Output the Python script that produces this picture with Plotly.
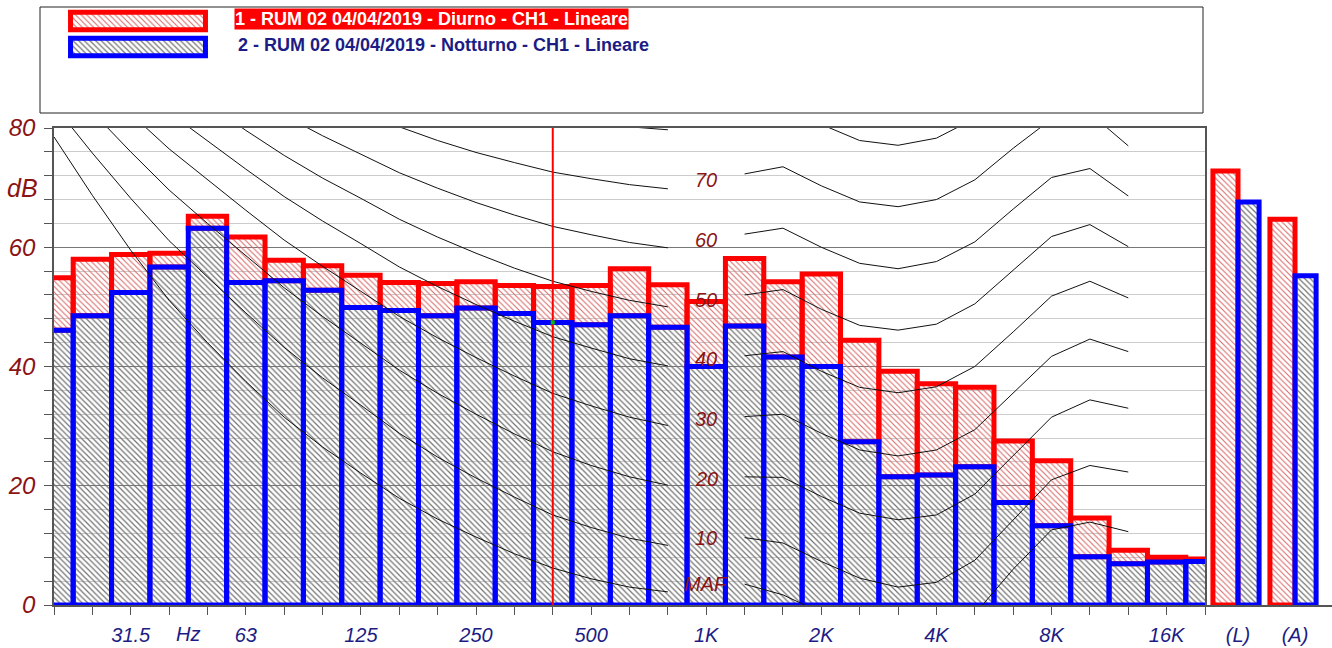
import plotly.graph_objects as go

# ---------------- data ----------------
bands = ["20", "25", "31.5", "40", "50", "63", "80", "100", "125", "160", "200", "250", "315", "400",
         "500", "630", "800", "1000", "1250", "1600", "2000", "2500", "3150", "4000", "5000", "6300",
         "8000", "10000", "12500", "16000", "20000"]
band_labels = {"31.5": "31.5", "63": "63", "125": "125", "250": "250", "500": "500", "1000": "1K",
               "2000": "2K", "4000": "4K", "8000": "8K", "16000": "16K"}

diurno = [54.9, 58.0, 58.8, 59.0, 65.2, 61.7, 57.8, 56.9, 55.3, 54.1, 53.9, 54.2, 53.6, 53.4,
          53.6, 56.4, 53.7, 50.9, 58.1, 54.2, 55.5, 44.4, 39.2, 37.1, 36.5, 27.5, 24.2, 14.6,
          9.2, 8.0, 7.7]
notturno = [46.1, 48.5, 52.4, 56.7, 63.2, 54.1, 54.4, 52.8, 49.9, 49.4, 48.5, 49.8, 48.9, 47.4,
            47.0, 48.5, 46.6, 40.0, 46.8, 41.6, 40.0, 27.4, 21.5, 21.8, 23.2, 17.2, 13.3, 8.1,
            6.9, 7.2, 7.3]

totals = ["(L)", "(A)"]
diurno_tot = [72.8, 64.7]
notturno_tot = [67.6, 55.2]

series_names = ["1 - RUM 02 04/04/2019 - Diurno - CH1 - Lineare",
                "2 - RUM 02 04/04/2019 - Notturno - CH1 - Lineare"]

cursor_band = "400"

# equal-loudness contours (dB at band centres 20 Hz .. 12.5 kHz)
iso_bands = bands[:29]
iso_curves = {
    "MAF": [78.5, 68.7, 59.5, 51.1, 44.0, 37.5, 31.5, 26.5, 22.1, 17.9, 14.4, 11.4, 8.6, 6.2, 4.4, 3.0,
            2.2, 2.4, 3.5, 1.7, -1.3, -4.2, -6.0, -5.4, -1.5, 6.0, 12.6, 13.9, 12.3],
    "10": [83.8, 75.8, 68.2, 61.1, 55.0, 49.0, 43.2, 38.1, 33.5, 28.8, 24.8, 21.3, 18.1, 15.1, 13.0, 11.2,
           10.0, 10.0, 11.3, 10.4, 7.3, 4.5, 3.0, 3.8, 7.5, 14.3, 21.0, 23.4, 22.3],
    "20": [89.6, 82.7, 76.0, 69.6, 64.0, 58.6, 53.2, 48.4, 43.9, 39.4, 35.5, 32.0, 28.7, 25.7, 23.4, 21.5,
           20.1, 20.0, 21.5, 21.4, 18.2, 15.4, 14.3, 15.1, 18.6, 25.0, 31.5, 34.4, 33.0],
    "30": [94.8, 88.5, 82.4, 76.5, 71.3, 66.2, 61.2, 56.8, 52.6, 48.4, 44.8, 41.5, 38.4, 35.5, 33.4, 31.5,
           30.1, 30.0, 31.6, 32.0, 28.8, 26.0, 25.0, 26.0, 29.4, 35.5, 41.7, 44.6, 42.5],
    "40": [99.9, 93.9, 88.2, 82.6, 77.8, 73.1, 68.5, 64.4, 60.6, 56.7, 53.4, 50.4, 47.6, 45.0, 43.1, 41.3,
           40.1, 40.0, 41.8, 42.5, 39.2, 36.5, 35.6, 36.6, 40.0, 45.8, 51.8, 54.3, 51.5],
    "50": [104.7, 99.1, 93.7, 88.5, 84.0, 79.6, 75.4, 71.6, 68.2, 64.7, 61.7, 59.0, 56.5, 54.3, 52.6, 51.1,
           50.0, 50.0, 52.0, 52.9, 49.6, 46.9, 46.1, 47.1, 50.5, 56.1, 61.8, 63.8, 60.1],
    "60": [109.5, 104.2, 99.1, 94.2, 90.0, 85.9, 82.1, 78.7, 75.6, 72.5, 69.9, 67.5, 65.4, 63.5, 62.1, 60.8,
           59.9, 60.0, 62.2, 63.2, 60.0, 57.3, 56.4, 57.6, 60.9, 66.4, 71.7, 73.2, 68.6],
    "70": [114.3, 109.2, 104.4, 99.8, 95.9, 92.2, 88.6, 85.6, 82.9, 80.2, 77.9, 75.9, 74.2, 72.6, 71.5, 70.5,
           69.8, 70.0, 72.3, 73.5, 70.3, 67.6, 66.8, 68.0, 71.3, 76.6, 81.5, 82.5, 77.0],
    "80": [119.0, 114.2, 109.6, 105.3, 101.7, 98.4, 95.2, 92.5, 90.1, 87.8, 85.9, 84.3, 82.9, 81.7, 80.9, 80.2,
           79.7, 80.0, 82.5, 83.7, 80.6, 77.9, 77.1, 78.3, 81.6, 86.8, 91.4, 91.7, 85.4],
}
label_band = "1000"

# ---------------- style ----------------
W, H = 1332, 648
FONT = "Liberation Sans, Arial, sans-serif"
RED, BLUE = "#ff0000", "#0000ff"
DARKRED = "#8a1414"
NAVY = "#1c1c84"
PL, PR, PT, PB = 54, 1205, 128, 605  # main plot area in px


def px_x(p):
    return p / W


def px_y(p):
    return 1 - p / H


red_pat = dict(shape="\\", fgcolor="#d86c6c", bgcolor="rgba(0,0,0,0)", size=4, solidity=0.28)
blue_pat = dict(shape="\\", fgcolor="#727272", bgcolor="rgba(0,0,0,0)", size=4, solidity=0.3)

fig = go.Figure()

# main bars: Diurno drawn only above Notturno, Notturno in front
fig.add_trace(go.Bar(x=bands, y=[d - n for d, n in zip(diurno, notturno)], base=notturno, width=1,
                     marker=dict(color="rgba(0,0,0,0)", pattern=red_pat, line=dict(color=RED, width=5)),
                     xaxis="x", yaxis="y", showlegend=False, hoverinfo="skip"))
fig.add_trace(go.Bar(x=bands, y=notturno, width=1,
                     marker=dict(color="rgba(0,0,0,0)", pattern=blue_pat, line=dict(color=BLUE, width=5)),
                     xaxis="x", yaxis="y", showlegend=False, hoverinfo="skip"))

# equal-loudness contours, broken at the label frequency
li = iso_bands.index(label_band)
for name, vals in iso_curves.items():
    yv = list(vals)
    yv[li] = None
    fig.add_trace(go.Scatter(x=iso_bands, y=yv, mode="lines", line=dict(color="#111111", width=1),
                             connectgaps=False, xaxis="x", yaxis="y", showlegend=False, hoverinfo="skip"))

# cursor
ci = bands.index(cursor_band)
fig.add_trace(go.Scatter(x=[cursor_band, cursor_band], y=[0, 80], mode="lines",
                         line=dict(color=RED, width=2), xaxis="x", yaxis="y", showlegend=False))
fig.add_trace(go.Scatter(x=[cursor_band], y=[notturno[ci]], mode="markers",
                         marker=dict(color="#00c000", size=4, symbol="square"),
                         xaxis="x", yaxis="y", showlegend=False))

# totals (L)/(A)
fig.add_trace(go.Bar(x=totals, y=diurno_tot, offset=-0.44, width=0.44,
                     marker=dict(color="rgba(0,0,0,0)", pattern=red_pat, line=dict(color=RED, width=5)),
                     xaxis="x2", yaxis="y2", showlegend=False))
fig.add_trace(go.Bar(x=totals, y=notturno_tot, offset=0, width=0.37,
                     marker=dict(color="rgba(0,0,0,0)", pattern=blue_pat, line=dict(color=BLUE, width=5)),
                     xaxis="x2", yaxis="y2", showlegend=False))

# legend swatches
fig.add_trace(go.Bar(x=[1], y=[0], base=0, orientation="h", width=0.67,
                     marker=dict(color="rgba(0,0,0,0)", pattern=red_pat, line=dict(color=RED, width=5)),
                     xaxis="x3", yaxis="y3", showlegend=False, hoverinfo="skip"))
fig.add_trace(go.Bar(x=[1], y=[1], base=0, orientation="h", width=0.67,
                     marker=dict(color="rgba(0,0,0,0)", pattern=blue_pat, line=dict(color=BLUE, width=5)),
                     xaxis="x3", yaxis="y3", showlegend=False, hoverinfo="skip"))

ticktext = [band_labels.get(b, "") for b in bands]

fig.update_layout(
    width=W, height=H, template="none", barmode="overlay",
    margin=dict(l=0, r=0, t=0, b=0, autoexpand=False),
    paper_bgcolor="white", plot_bgcolor="white",
    font=dict(family=FONT),
    xaxis=dict(type="category", categoryorder="array", categoryarray=bands,
               domain=[px_x(PL), px_x(PR)], range=[0, len(bands) - 1], anchor="y",
               tickmode="array", tickvals=bands, ticktext=ticktext,
               ticks="outside", ticklen=8, tickwidth=1, tickcolor="#555555",
               tickfont=dict(family=FONT, size=20, color=NAVY, style="italic"),
               ticklabelstandoff=3,
               showline=True, mirror=True, linecolor="#555555", linewidth=1.5,
               showgrid=False, zeroline=False, automargin=False, fixedrange=True),
    yaxis=dict(domain=[1 - PB / H, 1 - PT / H], range=[0, 80], anchor="x",
               tickmode="linear", tick0=0, dtick=20,
               ticks="outside", ticklen=8, tickwidth=1, tickcolor="#555555",
               tickfont=dict(family=FONT, size=24, color=DARKRED, style="italic"),
               ticklabelstandoff=4,
               showline=True, mirror=True, linecolor="#555555", linewidth=1.5,
               showgrid=True, gridcolor="#777777", gridwidth=1,
               minor=dict(dtick=4, ticks="outside", ticklen=8, tickcolor="#555555",
                          showgrid=True, gridcolor="#cccccc", gridwidth=1),
               zeroline=False, automargin=False, fixedrange=True),
    xaxis2=dict(type="category", domain=[px_x(PR), 1], range=[-0.579, 1.649], anchor="y2",
                ticks="", showline=True, linecolor="#555555", linewidth=1.5,
                tickfont=dict(family=FONT, size=20, color=NAVY, style="italic"),
                ticklabelstandoff=11,
                showgrid=False, zeroline=False, automargin=False, fixedrange=True),
    yaxis2=dict(domain=[1 - PB / H, 1 - PT / H], range=[0, 80], anchor="x2", visible=False,
                fixedrange=True),
    xaxis3=dict(domain=[px_x(60), px_x(216)], range=[-0.078, 1.078], anchor="y3", visible=False,
                fixedrange=True),
    yaxis3=dict(domain=[px_y(63), px_y(5)], range=[1.615, -0.615], anchor="x3", visible=False,
                fixedrange=True),
    shapes=[dict(type="rect", xref="paper", yref="paper", x0=px_x(40), x1=px_x(1203),
                 y0=px_y(113), y1=px_y(7), line=dict(color="#222222", width=1), layer="below")],
)

annotations = [
    dict(xref="paper", yref="paper", x=px_x(234), y=px_y(19), xanchor="left", yanchor="middle",
         text="<b>" + series_names[0] + "</b>", showarrow=False, bgcolor=RED, borderpad=0,
         font=dict(family=FONT, size=18, color="white")),
    dict(xref="paper", yref="paper", x=px_x(236), y=px_y(45), xanchor="left", yanchor="middle",
         text="<b>" + series_names[1] + "</b>", showarrow=False,
         font=dict(family=FONT, size=18, color=NAVY)),
    dict(xref="paper", yref="paper", x=px_x(22), y=px_y(188), xanchor="center", yanchor="middle",
         text="dB", showarrow=False, font=dict(family=FONT, size=25, color=DARKRED, style="italic")),
    dict(xref="paper", yref="paper", x=px_x(188), y=px_y(634), xanchor="center", yanchor="middle",
         text="Hz", showarrow=False, font=dict(family=FONT, size=20, color=NAVY, style="italic")),
]
for name, vals in iso_curves.items():
    if name == "80":
        continue
    annotations.append(dict(xref="x", yref="y", x=li, y=vals[li] + 1.2, xanchor="center", yanchor="middle",
                            text=name, showarrow=False,
                            font=dict(family=FONT, size=20, color=DARKRED, style="italic")))
fig.update_layout(annotations=annotations)

fig.write_html("out.html", config={"displayModeBar": False},
               post_script="document.body.style.margin='0px';")
